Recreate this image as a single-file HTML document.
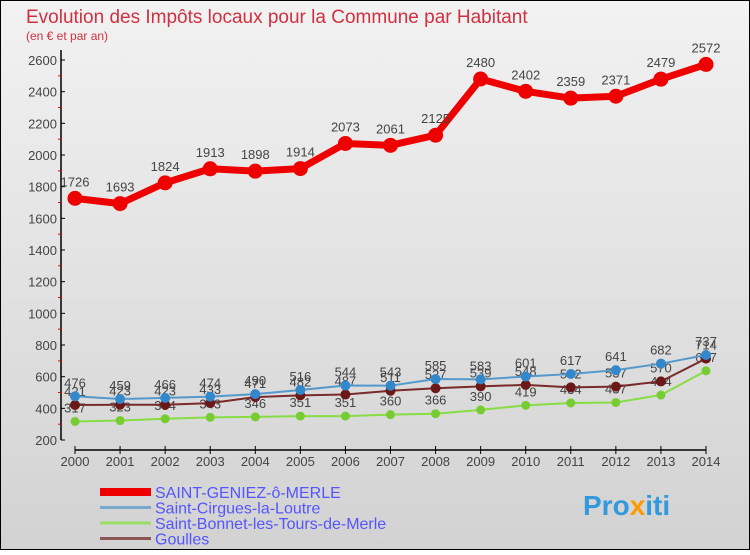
<!DOCTYPE html>
<html><head><meta charset="utf-8"><style>
body{margin:0;width:750px;height:550px;overflow:hidden;font-family:"Liberation Sans",sans-serif}
</style></head><body>
<svg width="750" height="550" xmlns="http://www.w3.org/2000/svg">
<defs><linearGradient id="bg" x1="0" y1="0" x2="0" y2="1"><stop offset="0" stop-color="#f2f2f2"/><stop offset="1" stop-color="#d2d2d2"/></linearGradient></defs>
<rect x="0.5" y="0.5" width="749" height="549" fill="url(#bg)" stroke="#000"/>
<text x="26" y="23" font-size="19" fill="#d03040">Evolution des Impôts locaux pour la Commune par Habitant</text>
<text x="26" y="40" font-size="12" fill="#d03040">(en € et par an)</text>
<g id="axes"></g>
<g id="series"></g>
<g id="legend"></g>
<text x="583" y="515" font-size="28" font-weight="bold" fill="#3399dd">Pro<tspan fill="#ff9900">x</tspan>iti</text>
</svg>
<script>
const years=[2000,2001,2002,2003,2004,2005,2006,2007,2008,2009,2010,2011,2012,2013,2014];
const yTicks=[200,400,600,800,1000,1200,1400,1600,1800,2000,2200,2400,2600];
const seriesNames=["SAINT-GENIEZ-ô-MERLE","Saint-Cirgues-la-Loutre","Saint-Bonnet-les-Tours-de-Merle","Goulles"];
const saintGeniez=[1726,1693,1824,1913,1898,1914,2073,2061,2125,2480,2402,2359,2371,2479,2572];
const saintCirgues=[476,459,466,474,490,516,544,543,585,583,601,617,641,682,737];
const saintBonnet=[317,323,334,343,346,351,351,360,366,390,419,434,437,484,637];
const goulles=[421,423,423,433,471,482,487,511,527,539,548,532,537,570,714];
const NS="http://www.w3.org/2000/svg";
const X=i=>75+i*(706-75)/(years.length-1);
const Y=v=>440-(v-200)*(380/2400);
function mk(tag,attrs,parent,txt){const e=document.createElementNS(NS,tag);for(const k in attrs)e.setAttribute(k,attrs[k]);if(txt!==undefined)e.textContent=txt;parent.appendChild(e);return e;}
const ax=document.getElementById('axes');
let e=mk('line',{x1:61,y1:50,x2:61,y2:440,stroke:'#000','stroke-width':1.5},ax);


yTicks.forEach((t,i)=>{
 const y=Y(t);
 mk('line',{x1:61,y1:y,x2:65,y2:y,stroke:'#000'},ax);
 const l=mk('text',{x:57,y:y+5,'font-size':13,'text-anchor':'end',fill:'#444'},ax,t);
 
 
 if(i<yTicks.length-1)mk('line',{x1:58,y1:Y(t+100),x2:61,y2:Y(t+100),stroke:'#e00'},ax);
});
e=mk('line',{x1:75,y1:450,x2:706,y2:450,stroke:'#000','stroke-width':1.5},ax);


years.forEach((yr,i)=>{
 mk('line',{x1:X(i),y1:446,x2:X(i),y2:454,stroke:'#000'},ax);
 const l=mk('text',{x:X(i),y:466,'font-size':13,'text-anchor':'middle',fill:'#444'},ax,yr);
 
 
});
const sg=document.getElementById('series');
const defs=[[saintBonnet,'#88dd44','#77cc33',2,4.5,'series-saint-bonnet'],[goulles,'#7a2a2a','#6a1818',2,5,'series-goulles'],[saintCirgues,'#5599cc','#3388cc',2,5,'series-saint-cirgues'],[saintGeniez,'#ee0000','#ee0000',7,7.5,'series-saint-geniez']];
defs.forEach(([d,lc,mc,w,r,name])=>{
 const g=mk('g',{},sg);
 
 
 const pl=mk('polyline',{points:d.map((v,i)=>X(i)+','+Y(v)).join(' '),fill:'none',stroke:lc,'stroke-width':w,'stroke-linejoin':'round'},g);
 
 
 d.forEach((v,i)=>{
  const c=mk('circle',{cx:X(i),cy:Y(v),r:r,fill:mc},g);
  
  
  const t=mk('text',{x:X(i),y:Y(v)-(w>3?12:9),'font-size':13,'text-anchor':'middle',fill:'#444'},g,v);
  
  
 });
});
const lg=document.getElementById('legend');
const lcol=['#ee0000','#77aacc','#99dd66','#8a5555'];const lw=[8,3,3,3];
seriesNames.forEach((n,i)=>{
 const y=492+i*15.5;
 const g=mk('g',{},lg);
 
 
 mk('line',{x1:100,y1:y,x2:151,y2:y,stroke:lcol[i],'stroke-width':lw[i]},g);
 mk('text',{x:155,y:y+6,'font-size':16,fill:'#5555ff'},g,n);
});
</script>
</body></html>
